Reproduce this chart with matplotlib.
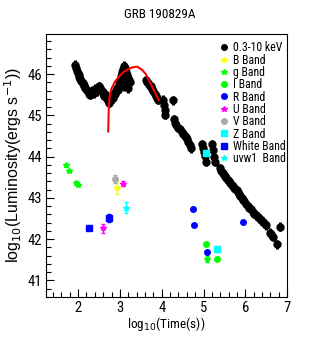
import matplotlib
matplotlib.use("Agg")
import matplotlib.pyplot as plt
from matplotlib.lines import Line2D

# X-ray light curve 0.3-10 keV (log10 t, log10 L)
xray_t = [1.93, 1.95, 1.97, 1.99, 2.01, 2.03, 2.05, 2.07, 2.09, 2.11, 2.13, 2.15, 2.17, 2.19,
          2.21, 2.23, 2.25, 2.27, 2.29, 2.31, 2.33, 2.35, 2.37, 2.39, 2.41, 2.43, 2.45, 2.47,
          2.49, 2.51, 2.53, 2.55, 2.57, 2.59, 2.61, 2.63, 2.65, 2.67, 2.69, 2.71, 2.73, 2.75,
          2.77, 2.79, 2.81, 2.83, 2.85, 2.87, 2.89, 2.91, 2.93, 2.95, 2.97, 2.99, 3.01, 3.03,
          3.05, 3.07, 3.09, 3.11, 3.13, 3.15, 3.17, 3.19, 3.21, 3.23, 3.05, 3.10, 3.15, 3.20,
          3.62, 3.65, 3.68, 3.71, 3.74, 3.77, 3.80, 3.83, 3.86, 3.89, 3.92,
          4.03, 4.05, 4.07, 4.09, 4.26,
          4.29, 4.32, 4.35, 4.39, 4.44, 4.48, 4.52, 4.55, 4.58, 4.61, 4.64, 4.67, 4.69,
          4.97, 4.99, 5.01, 5.03, 5.05, 5.21, 5.23, 5.25, 5.27,
          5.40, 5.43, 5.46, 5.49, 5.52, 5.55, 5.58, 5.61, 5.64, 5.67, 5.70, 5.73, 5.76,
          5.79, 5.82, 5.85, 5.88, 5.91, 5.94, 5.97,
          6.02, 6.06, 6.10, 6.14, 6.18, 6.22, 6.26, 6.30, 6.34, 6.38, 6.42, 6.46, 6.50,
          6.58, 6.62, 6.66, 6.76, 6.83]
xray_L = [46.22, 46.15, 46.08, 46.02, 45.98, 45.92, 45.88, 45.84, 45.80, 45.78, 45.74, 45.70, 45.66, 45.63,
          45.62, 45.58, 45.56, 45.52, 45.50, 45.56, 45.60, 45.58, 45.54, 45.60, 45.64, 45.62, 45.58, 45.62,
          45.66, 45.70, 45.66, 45.62, 45.58, 45.54, 45.50, 45.48, 45.52, 45.44, 45.40, 45.36, 45.32, 45.30,
          45.34, 45.40, 45.45, 45.42, 45.50, 45.55, 45.52, 45.60, 45.65, 45.62, 45.72, 45.80, 45.85, 45.95,
          46.05, 46.12, 46.20, 46.15, 46.10, 46.05, 45.98, 45.90, 45.85, 45.80, 45.75, 45.70, 45.80, 45.65,
          45.85, 45.80, 45.78, 45.72, 45.70, 45.64, 45.58, 45.52, 45.48, 45.42, 45.38,
          45.38, 45.25, 45.12, 45.02, 45.37,
          44.90, 44.82, 44.76, 44.70, 44.66, 44.60, 44.55, 44.50, 44.48, 44.42, 44.36, 44.28, 44.20,
          44.30, 44.20, 44.12, 44.02, 43.88, 44.30, 44.15, 44.00, 43.88,
          43.72, 43.66, 43.60, 43.56, 43.52, 43.48, 43.44, 43.40, 43.36, 43.32, 43.28, 43.25, 43.22,
          43.18, 43.14, 43.10, 43.05, 43.00, 42.96, 42.92,
          42.86, 42.80, 42.76, 42.72, 42.66, 42.62, 42.58, 42.54, 42.50, 42.46, 42.42, 42.38, 42.34,
          42.15, 42.12, 42.06, 41.88, 42.30]

# fit curve (red)
fit_t = [2.72, 2.73, 2.74, 2.76, 2.80, 2.89, 3.00, 3.09, 3.20, 3.29, 3.41, 3.53, 3.62, 3.69, 3.81, 3.93]
fit_L = [44.61, 45.05, 45.30, 45.50, 45.65, 45.83, 45.96, 46.05, 46.12, 46.16, 46.18, 46.10, 46.00, 45.86, 45.61, 45.37]

# optical / UV bands: (t, L, err)
g_t = [1.70, 1.78, 1.95, 2.00, 5.08]
g_L = [43.79, 43.66, 43.36, 43.32, 41.52]
g_e = [0.03, 0.03, 0.04, 0.03, 0.07]
B_t = [2.93]
B_L = [43.24]
B_e = [0.15]
I_t = [5.06, 5.33]
I_L = [41.89, 41.53]
I_e = [0.03, 0.03]
R_t = [4.74, 4.78, 5.94, 5.08]
R_L = [42.74, 42.35, 42.42, 41.68]
R_e = [0.03, 0.03, 0.03, 0.03]
U_t = [2.59, 3.07]
U_L = [42.26, 43.34]
U_e = [0.12, 0.06]
V_t = [2.89]
V_L = [43.46]
V_e = [0.09]
Z_t = [5.06, 5.33]
Z_L = [44.08, 41.77]
Z_e = [0.04, 0.07]
W_t = [2.27, 2.75]
W_L = [42.27, 42.51]
W_e = [0.05, 0.10]
uvw1_t = [3.15]
uvw1_L = [42.76]
uvw1_e = [0.13]

plt.rcParams['font.family'] = ['Roboto Condensed', 'Liberation Sans', 'DejaVu Sans']

fig = plt.figure(figsize=(3.19, 3.54), dpi=100)
ax = fig.add_axes([0.144, 0.161, 0.756, 0.743])

ax.errorbar(xray_t, xray_L, yerr=0.11, fmt='o', color='black', ms=5, elinewidth=2.2, capsize=0, zorder=3)
ax.plot(fit_t, fit_L, color='red', lw=1.5, zorder=4)

bands = [
    (B_t, B_L, B_e, '*', '#ffff00'),
    (g_t, g_L, g_e, '*', '#00ff00'),
    (I_t, I_L, I_e, 'o', '#00ff00'),
    (R_t, R_L, R_e, 'o', '#0000ff'),
    (U_t, U_L, U_e, '*', '#ff00ff'),
    (V_t, V_L, V_e, 'o', '#aaaaaa'),
    (Z_t, Z_L, Z_e, 's', '#00ffff'),
    (W_t, W_L, W_e, 's', '#0000ff'),
    (uvw1_t, uvw1_L, uvw1_e, '*', '#00ffff'),
]
for t, L, e, m, c in bands:
    ax.errorbar(t, L, yerr=e, fmt=m, color=c, ms=4, elinewidth=1, capsize=1.5, zorder=5)

labels = ['0.3-10 keV', 'B Band', 'g Band', 'I Band', 'R Band', 'U Band', 'V Band',
          'Z Band', 'White Band', 'uvw1  Band']
markers = ['o', '*', '*', 'o', 'o', '*', 'o', 's', 's', '*']
colors = ['black', '#ffff00', '#00ff00', '#00ff00', '#0000ff', '#ff00ff', '#aaaaaa',
          '#00ffff', '#0000ff', '#00ffff']
handles = [Line2D([], [], ls='none', marker=m, color=c, ms=4) for m, c in zip(markers, colors)]
ax.legend(handles, labels, loc='upper left', bbox_to_anchor=(0.69, 1.003), frameon=False,
          fontsize=8.5, labelspacing=-0.06, handlelength=0.6, handletextpad=0.45, borderpad=0.2)

ax.set_xlim(1.23, 7.0)
ax.set_ylim(40.6, 46.97)
ax.set_xticks([2, 3, 4, 5, 6, 7])
ax.set_yticks([41, 42, 43, 44, 45, 46])
ax.set_xticks([x / 5 for x in range(7, 35)], minor=True)
ax.set_yticks([y / 5 for y in range(204, 235)], minor=True)
ax.tick_params(which='both', direction='in', top=False, right=False, labelsize=10.5, pad=3)
ax.tick_params(which='major', length=6, width=0.8)
ax.tick_params(which='minor', length=3.5, width=0.8)
for s in ax.spines.values():
    s.set_linewidth(0.8)

ax.set_xlabel(r'log$_{10}$(Time(s))', fontsize=9.5, labelpad=0)
ax.set_ylabel(r'log$_{10}$(Luminosity(ergs s$^{-1}$))', fontsize=11.5, family='Liberation Sans')
ax.yaxis.set_label_coords(-0.092, 0.5)
fig.text(0.5, 0.96, 'GRB 190829A', ha='center', va='center', fontsize=9.5)

fig.savefig('out.png', dpi=100)
